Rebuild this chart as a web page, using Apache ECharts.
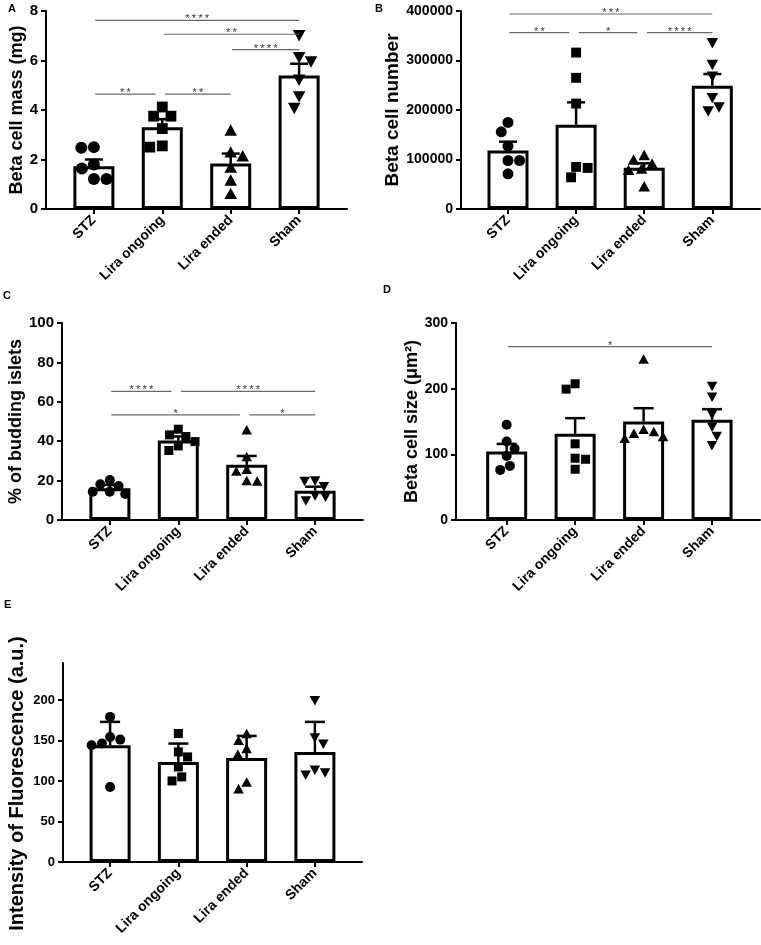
<!DOCTYPE html>
<html><head><meta charset="utf-8">
<script src="https://cdn.jsdelivr.net/npm/echarts@6/dist/echarts.min.js"></script>
<style>html,body{margin:0;padding:0;background:#fff}#c{width:761px;height:945px}</style>
</head><body><div id="c"></div>
<script>
const categories = ['STZ', 'Lira ongoing', 'Lira ended', 'Sham'];

// A: Beta cell mass (mg)
const massTicks = [0, 2, 4, 6, 8];
const massMean = [1.73, 3.30, 1.84, 5.39];
const massSem = [0.27, 0.33, 0.40, 0.48];
const massStz = [2.47, 2.50, 1.64, 1.80, 1.21, 1.21];
const massLiraOngoing = [3.75, 3.75, 4.12, 3.25, 2.50, 2.55];
const massLiraEnded = [3.19, 2.31, 2.15, 1.70, 1.17, 0.63];
const massSham = [7.00, 5.94, 6.11, 5.20, 4.53, 4.06];
const massSig = [[0, 3, 7.62, '****'], [1, 3, 7.06, '**'], [2, 3, 6.44, '****'], [0, 1, 4.64, '**'], [1, 2, 4.64, '**']];

// B: Beta cell number
const numberTicks = [0, 100000, 200000, 300000, 400000];
const numberMean = [118000, 170000, 83400, 249000];
const numberSem = [18000, 45500, 8900, 23700];
const numberStz = [175000, 156000, 127000, 98000, 98000, 71000];
const numberLiraOngoing = [316000, 265000, 213000, 85000, 83000, 64000];
const numberLiraEnded = [100000, 109000, 92000, 82000, 79000, 46000];
const numberSham = [335000, 291000, 267000, 224000, 205000, 197000];
const numberSig = [[0, 3, 393900, '***'], [0, 1, 356200, '**'], [1, 2, 356200, '*'], [2, 3, 356200, '****']];

// C: % of budding islets
const buddingTicks = [0, 20, 40, 60, 80, 100];
const buddingMean = [16.1, 40.3, 28.0, 14.9];
const buddingSem = [1.7, 2.1, 4.5, 2.0];
const buddingStz = [18.1, 20.3, 17.3, 14.4, 13.2, 14.4];
const buddingLiraOngoing = [43.2, 46.1, 42.4, 39.8, 35.3, 37.6];
const buddingLiraEnded = [45.8, 32.2, 24.9, 25.8, 19.8, 20.0];
const buddingSham = [19.5, 19.8, 16.9, 12.2, 11.5, 9.7];
const buddingSig = [[0, 1, 65.3, '****'], [1, 3, 65.3, '****'], [0, 2, 53.4, '*'], [2, 3, 53.4, '*']];

// D: Beta cell size (um2)
const sizeTicks = [0, 100, 200, 300];
const sizeMean = [104.2, 131.2, 150.0, 152.5];
const sizeSem = [11.7, 23.9, 20.3, 16.3];
const sizeStz = [145.0, 119.5, 109.0, 97.6, 82.4, 76.3];
const sizeLiraOngoing = [207.5, 199.3, 116.0, 92.5, 94.1, 77.3];
const sizeLiraEnded = [245.0, 138.3, 132.2, 124.6, 127.1, 134.7];
const sizeSham = [203.4, 187.1, 160.2, 141.4, 127.1, 112.9];
const sizeSig = [[0, 3, 264, '*']];

// E: Intensity of Fluorescence (a.u.)
const fluoTicks = [0, 50, 100, 150, 200];
const fluoMean = [144.3, 123.7, 128.7, 136.1];
const fluoSd = [28.9, 22.7, 27.2, 37.1];
const fluoStz = [179.4, 154.6, 146.4, 144.3, 151.3, 92.8];
const fluoLiraOngoing = [158.8, 136.1, 129.9, 117.5, 105.2, 100.2];
const fluoLiraEnded = [150.5, 158.8, 140.2, 133.2, 90.7, 99.0];
const fluoSham = [199.2, 153.4, 145.6, 113.4, 107.2, 110.1];
const fluoSig = [];

const FONT = 'Liberation Sans';

const panels = [
  { letter: 'A', lp: [8, 3], grid: { left: 46, top: 11, width: 301, height: 198 }, x: [-0.70, 3.70], yMax: 8, ticks: massTicks,
    title: 'Beta cell mass (mg)', nameGap: 20, nameSize: 18, namePad: 0, means: massMean, errs: massSem,
    points: [massStz, massLiraOngoing, massLiraEnded, massSham], sig: massSig, sym: 12, cap: 18, lab: 15 },
  { letter: 'B', lp: [375, 3], grid: { left: 461, top: 11, width: 299, height: 198 }, x: [-0.69, 3.70], yMax: 400000, ticks: numberTicks,
    title: 'Beta cell number', nameGap: 58, nameSize: 19, namePad: 0, means: numberMean, errs: numberSem,
    points: [numberStz, numberLiraOngoing, numberLiraEnded, numberSham], sig: numberSig, sym: 11, cap: 18, lab: 14 },
  { letter: 'C', lp: [3, 290], grid: { left: 62, top: 323, width: 301, height: 197 }, x: [-0.70, 3.70], yMax: 100, ticks: buddingTicks,
    title: '% of budding islets', nameGap: 32, nameSize: 18, namePad: 0, means: buddingMean, errs: buddingSem,
    points: [buddingStz, buddingLiraOngoing, buddingLiraEnded, buddingSham], sig: buddingSig, sym: 10, cap: 20, lab: 15 },
  { letter: 'D', lp: [383, 284], grid: { left: 456, top: 323, width: 304, height: 197 }, x: [-0.74, 3.70], yMax: 300, ticks: sizeTicks,
    title: 'Beta cell size (μm²)', nameGap: 23, nameSize: 18, namePad: 0, means: sizeMean, errs: sizeSem,
    points: [sizeStz, sizeLiraOngoing, sizeLiraEnded, sizeSham], sig: sizeSig, sym: 10, cap: 20, lab: 14 },
  { letter: 'E', lp: [4, 599], grid: { left: 63, top: 663, width: 299, height: 199 }, x: [-0.69, 3.69], yMax: 246, ticks: fluoTicks,
    title: 'Intensity of Fluorescence (a.u.)', nameGap: 36, nameSize: 20, namePad: 42, means: fluoMean, errs: fluoSd,
    points: [fluoStz, fluoLiraOngoing, fluoLiraEnded, fluoSham], sig: fluoSig, sym: 10, cap: 20, lab: 13 }
];

const symbols = [
  { symbol: 'circle', k: [1, 1], rot: 0 },
  { symbol: 'rect', k: [0.9, 0.9], rot: 0 },
  { symbol: 'triangle', k: [1.05, 0.95], rot: 0 },
  { symbol: 'triangle', k: [1.05, 0.95], rot: 180 }
];

// simple beeswarm: returns horizontal offsets (px) so markers do not overlap
function swarm(vals, pxY, d) {
  const order = vals.map((v, i) => i).sort((a, b) => vals[b] - vals[a]);
  const placed = [];
  const out = new Array(vals.length).fill(0);
  let flip = 1;
  order.forEach(i => {
    const y = vals[i] * pxY;
    const cands = [0];
    placed.forEach(p => {
      const dy = Math.abs(p.y - y);
      if (dy < d) { const dx = Math.sqrt(d * d - dy * dy); cands.push(p.x + dx, p.x - dx); }
    });
    cands.sort((a, b) => (Math.abs(a) - Math.abs(b)) || (flip * (b - a)));
    const x = cands.find(c => placed.every(p => Math.hypot(p.x - c, p.y - y) >= d - 0.01));
    flip = -flip;
    placed.push({ x, y });
    out[i] = x;
  });
  return out;
}

const option = {
  animation: false,
  backgroundColor: '#fff',
  textStyle: { fontFamily: FONT },
  title: [], grid: [], xAxis: [], yAxis: [], series: []
};

panels.forEach((p, pi) => {
  option.title.push({ text: p.letter, left: p.lp[0], top: p.lp[1], padding: 0,
    textStyle: { fontFamily: FONT, fontSize: 11, fontWeight: 'bold', color: '#000' } });
  option.grid.push(Object.assign({ containLabel: false }, p.grid));
  option.xAxis.push({
    type: 'value', gridIndex: pi, min: p.x[0], max: p.x[1],
    axisLine: { show: true, onZero: false, lineStyle: { color: '#000', width: 2 } },
    axisTick: { show: true, customValues: [0, 1, 2, 3], length: 5, lineStyle: { color: '#000', width: 2 } },
    axisLabel: { customValues: [0, 1, 2, 3], formatter: v => categories[Math.round(v)], rotate: 45, margin: 9,
      fontFamily: FONT, fontWeight: 'bold', fontSize: 14, color: '#000' },
    splitLine: { show: false }
  });
  option.yAxis.push({
    type: 'value', gridIndex: pi, min: 0, max: p.yMax,
    axisLine: { show: true, onZero: false, lineStyle: { color: '#000', width: 2 } },
    axisTick: { show: true, customValues: p.ticks, length: 5, lineStyle: { color: '#000', width: 2 } },
    axisLabel: { customValues: p.ticks, formatter: v => String(v), margin: 8,
      fontFamily: FONT, fontWeight: 'bold', fontSize: p.lab, color: '#000' },
    splitLine: { show: false },
    name: p.title, nameLocation: 'middle', nameGap: p.nameGap,
    nameTextStyle: { fontFamily: FONT, fontWeight: 'bold', fontSize: p.nameSize, color: '#000', padding: [0, p.namePad, 0, 0] }
  });
  const pxX = p.grid.width / (p.x[1] - p.x[0]);
  const pxY = p.grid.height / p.yMax;

  // bars
  option.series.push({
    type: 'bar', xAxisIndex: pi, yAxisIndex: pi, z: 1, barWidth: 41,
    data: p.means.map((m, i) => [i, m]),
    itemStyle: { color: '#fff', borderColor: '#000', borderWidth: 3 },
    silent: true
  });
  // error bars (upper)
  option.series.push({
    type: 'custom', xAxisIndex: pi, yAxisIndex: pi, z: 3,
    data: p.means.map((m, i) => [i, m, m + p.errs[i]]),
    renderItem: (params, api) => {
      const b = api.coord([api.value(0), api.value(1)]);
      const t = api.coord([api.value(0), api.value(2)]);
      const st = { stroke: '#000', lineWidth: 2.5 };
      return { type: 'group', children: [
        { type: 'line', shape: { x1: b[0], y1: b[1], x2: t[0], y2: t[1] }, style: st },
        { type: 'line', shape: { x1: t[0] - p.cap / 2, y1: t[1], x2: t[0] + p.cap / 2, y2: t[1] }, style: st }
      ] };
    }
  });
  // individual points
  p.points.forEach((vals, gi) => {
    const s = symbols[gi];
    const off = swarm(vals, pxY, p.sym * 1.05);
    option.series.push({
      type: 'scatter', xAxisIndex: pi, yAxisIndex: pi, z: 4,
      symbol: s.symbol, symbolRotate: s.rot, symbolSize: [p.sym * s.k[0], p.sym * s.k[1]],
      itemStyle: { color: '#000', opacity: 1 },
      data: vals.map((v, k) => [gi + off[k] / pxX, v])
    });
  });
  // significance bars
  if (p.sig.length) {
    option.series.push({
      type: 'custom', xAxisIndex: pi, yAxisIndex: pi, z: 5,
      data: p.sig.map(s => [s[0], s[2], s[1]]),
      renderItem: (params, api) => {
        const s = p.sig[params.dataIndex];
        const sharedStart = p.sig.some((o, j) => j !== params.dataIndex && o[2] === s[2] && o[1] === s[0]);
        const sharedEnd = p.sig.some((o, j) => j !== params.dataIndex && o[2] === s[2] && o[0] === s[1]);
        const a = api.coord([s[0] + (sharedStart ? 0.04 : 0.02), s[2]]);
        const b = api.coord([s[1] - (sharedEnd ? 0.1 : 0.0), s[2]]);
        return { type: 'group', children: [
          { type: 'line', shape: { x1: a[0], y1: a[1], x2: b[0], y2: b[1] }, style: { stroke: '#6a6a6a', lineWidth: 1.2 } },
          { type: 'text', x: (a[0] + b[0]) / 2, y: a[1] - 1,
            style: { text: s[3].split('').join('\u2009'), fill: '#333', font: '11px "' + FONT + '"', align: 'center', verticalAlign: 'middle' } }
        ] };
      }
    });
  }
});

const chart = echarts.init(document.getElementById('c'), null, { renderer: 'canvas' });
chart.setOption(option);
</script>
</body></html>
